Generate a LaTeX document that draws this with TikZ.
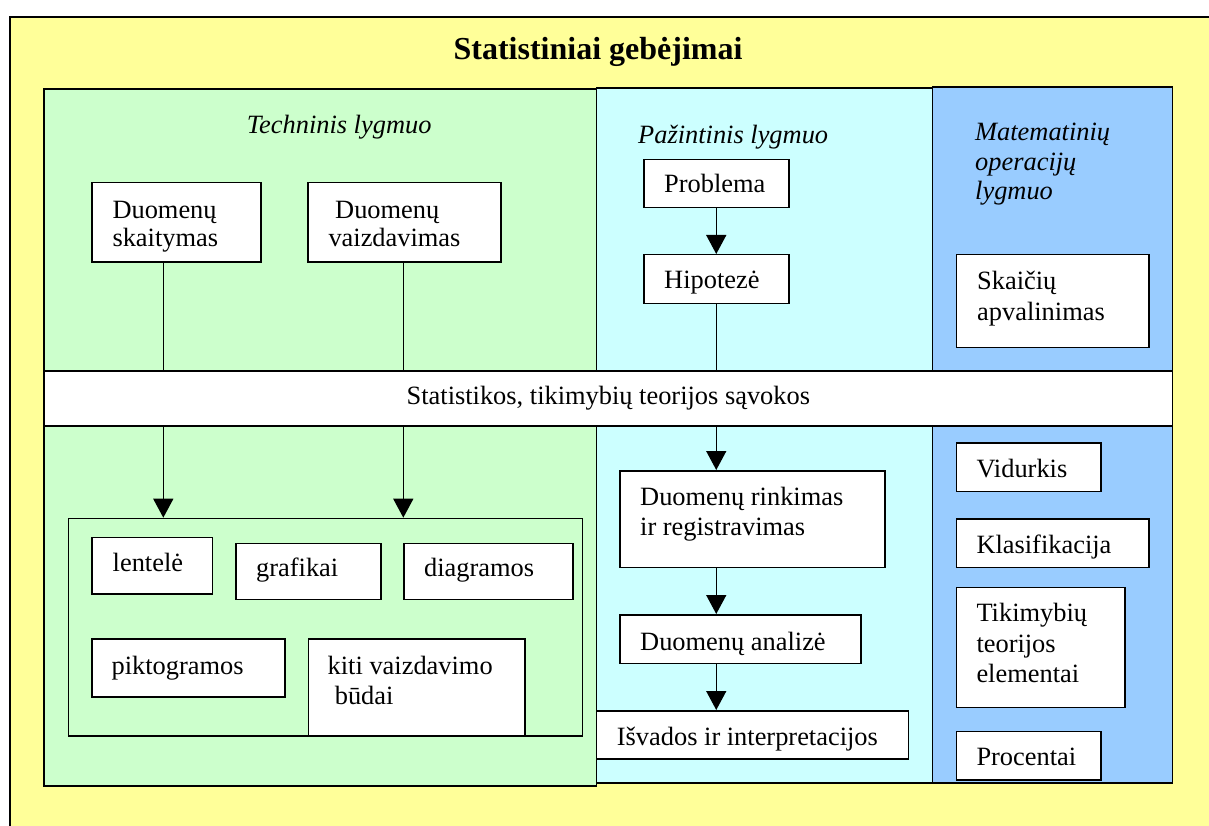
\documentclass[tikz,border=0pt]{standalone}
\usepackage{fontspec}
\setmainfont{Liberation Serif}
\usetikzlibrary{arrows.meta}
\definecolor{ybg}{HTML}{FFFF99}
\definecolor{gbg}{HTML}{CCFFCC}
\definecolor{cbg}{HTML}{CCFFFF}
\definecolor{bbg}{HTML}{99CCFF}
\newcommand{\bodyfont}[1]{\fontsize{26.4}{#1}\selectfont}
\begin{document}
\begin{tikzpicture}[x=1pt,y=-1pt,
  panel/.style={draw, line width=1.7pt, inner sep=0, anchor=north west},
  box/.style={draw, fill=white, line width=1.5pt, inner sep=0, anchor=north west},
  txt/.style={anchor=base west, inner sep=0, align=left, font=\bodyfont{29}},
  itxt/.style={txt, font=\itshape\bodyfont{29}},
  arr/.style={line width=1.5pt, -{Triangle[length=19pt,width=20pt]}},
  ln/.style={line width=1.5pt}]
\useasboundingbox (0,0) rectangle (1209,826);
\clip (0,0) rectangle (1209,826);
\fill[white] (0,0) rectangle (1209,826);
\draw[fill=ybg, line width=1.8pt] (9.7,16.7) rectangle (1260,880);

% title
\node[anchor=base, inner sep=0, font=\bfseries\fontsize{32}{36}\selectfont] (title) at (598,59.3) {Statistiniai gebėjimai};

% panels
\node[panel, fill=gbg, minimum width=552.4pt, minimum height=696.5pt] (tech) at (43.3,88.5) {};
\node[panel, fill=cbg, minimum width=336pt, minimum height=694.7pt] (cog) at (595.7,87.3) {};
\node[panel, fill=bbg, minimum width=240pt, minimum height=696pt] (math) at (931.7,86) {};
\node[panel, fill=white, minimum width=1128.4pt, minimum height=55pt, font=\bodyfont{29}] (banner) at (43.3,370) {Statistikos, tikimybių teorijos sąvokos};

% technical level (multi-line texts are anchored at the baseline of their last line)
\node[itxt] (ttech) at (246.7,133.3) {Techninis lygmuo};
\node[box, minimum width=169pt, minimum height=79pt] (sk) at (91,182) {};
\node[txt, font=\bodyfont{28.4}] (tsk) at (112.3,246.7) {Duomenų\\skaitymas};
\node[box, minimum width=192.7pt, minimum height=79pt] (vz) at (307.3,182) {};
\node[txt, font=\bodyfont{28.4}] (tvz) at (328.3,246.7) {\hspace*{6.7pt}Duomenų\\vaizdavimas};

\node[panel, fill=gbg, line width=1.5pt, minimum width=514.3pt, minimum height=217.3pt] (group) at (67.5,517.7) {};
\node[box, minimum width=120.8pt, minimum height=56.6pt] (lent) at (91,536.7) {};
\node[txt] (tlent) at (112.5,571.7) {lentelė};
\node[box, minimum width=145pt, minimum height=56pt] (graf) at (235,542.7) {};
\node[txt] (tgraf) at (256,576.7) {grafikai};
\node[box, minimum width=168.8pt, minimum height=56pt] (diag) at (403.2,542.7) {};
\node[txt] (tdiag) at (424,576.7) {diagramos};
\node[box, minimum width=193pt, minimum height=57.7pt] (pikt) at (91,638.3) {};
\node[txt] (tpikt) at (111.4,674) {piktogramos};
\node[box, minimum width=216.5pt, minimum height=96.7pt] (kiti) at (307.5,638.3) {};
\node[txt, font=\bodyfont{30}] (tkiti) at (327.5,704) {kiti vaizdavimo\\\hspace*{7.1pt}būdai};

\coordinate (xa) at (163.3,0);
\coordinate (xb) at (403.3,0);
\draw[ln] (sk.south -| xa) -- (banner.north -| xa);
\draw[arr] (banner.south -| xa) -- (group.north -| xa);
\draw[ln] (vz.south -| xb) -- (banner.north -| xb);
\draw[arr] (banner.south -| xb) -- (group.north -| xb);

% cognitive level
\node[itxt] (tcog) at (638,144) {Pažintinis lygmuo};
\node[box, minimum width=145pt, minimum height=47.7pt] (prob) at (643,159) {};
\node[txt] (tprob) at (664,193) {Problema};
\node[box, minimum width=145pt, minimum height=48.7pt] (hip) at (643,254) {};
\node[txt] (thip) at (664,288) {Hipotezė};
\node[box, minimum width=264.7pt, minimum height=96.7pt] (rink) at (619.3,470) {};
\node[txt, font=\bodyfont{30}] (trink) at (640,535.7) {Duomenų rinkimas\\ir registravimas};
\node[box, minimum width=240.7pt, minimum height=48.7pt] (anal) at (619.3,614) {};
\node[txt] (tanal) at (640,650) {Duomenų analizė};
\node[box, minimum width=312pt, minimum height=48pt] (isv) at (595.7,710) {};
\node[txt] (tisv) at (616.7,745) {Išvados ir interpretacijos};

\draw[arr] (prob.south) -- (hip.north);
\draw[ln] (hip.south) -- (banner.north -| hip.south);
\draw[arr] (banner.south -| hip.south) -- (rink.north -| hip.south);
\draw[arr] (rink.south -| hip.south) -- (anal.north -| hip.south);
\draw[arr] (anal.south -| hip.south) -- (isv.north -| hip.south);

% mathematical level
\node[itxt, font=\itshape\bodyfont{29.2}] (tmath) at (975,199.4) {Matematinių\\operacijų\\lygmuo};
\node[box, minimum width=192.8pt, minimum height=92.7pt] (skc) at (955.5,254) {};
\node[txt, font=\bodyfont{31}] (tskc) at (977,320) {Skaičių\\apvalinimas};
\node[box, minimum width=144.5pt, minimum height=48.4pt] (vid) at (955.8,442.3) {};
\node[txt] (tvid) at (976.3,477.3) {Vidurkis};
\node[box, minimum width=192.6pt, minimum height=48.4pt] (kla) at (955.8,518.3) {};
\node[txt] (tkla) at (976.3,553.3) {Klasifikacija};
\node[box, minimum width=168.5pt, minimum height=120pt] (tik) at (955.8,586.7) {};
\node[txt, font=\bodyfont{30.5}] (ttik) at (976.3,682.7) {Tikimybių\\teorijos\\elementai};
\node[box, minimum width=144.5pt, minimum height=48.3pt] (proc) at (955.8,730.7) {};
\node[txt] (tproc) at (976.3,765) {Procentai};
\end{tikzpicture}
\end{document}
